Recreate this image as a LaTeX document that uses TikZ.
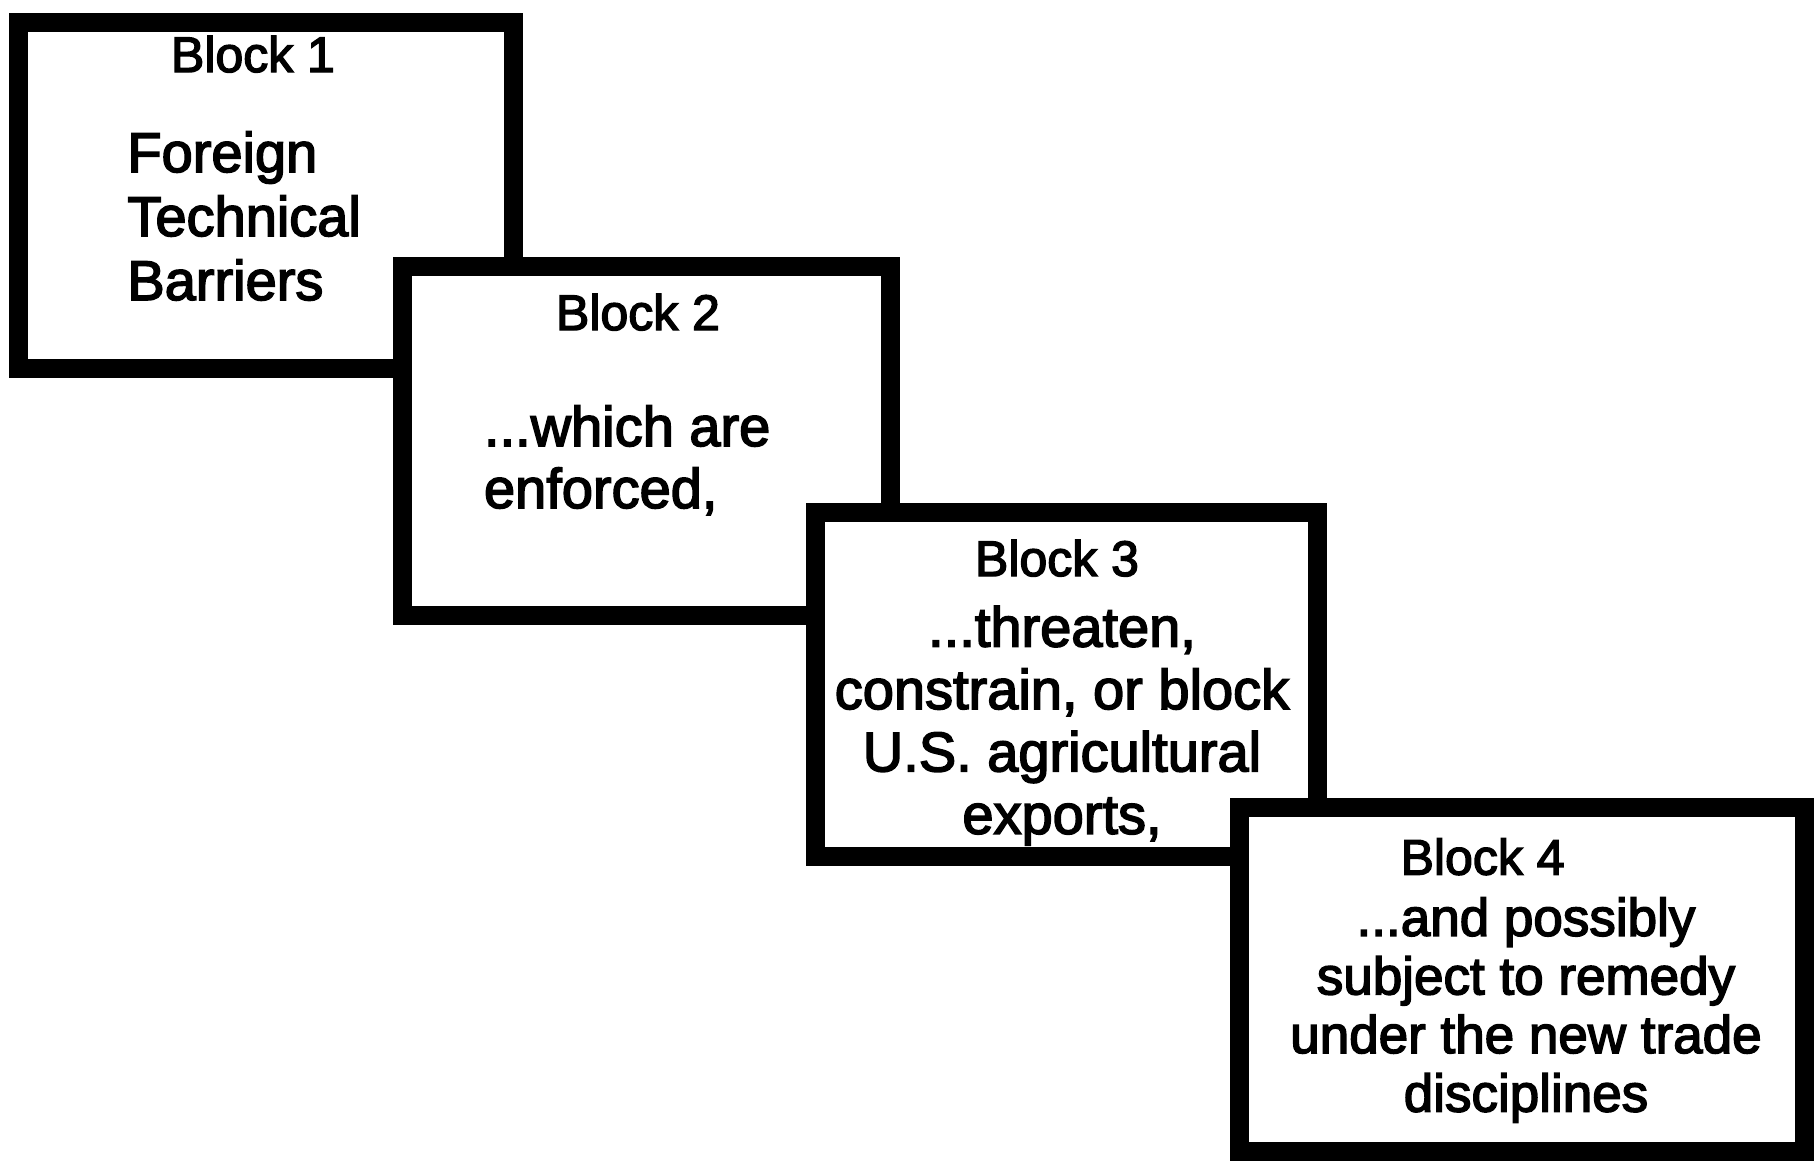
\documentclass[tikz,border=0pt]{standalone}
\usepackage{fontspec}
\setmainfont{Liberation Sans}[BoldFont=Liberation Sans, BoldFeatures={FakeBold=2.8}]
\begin{document}
\begin{tikzpicture}[x=0.5pt,y=-0.5pt,
  blk/.style={draw=black, fill=white, line width=9.5pt, rectangle, inner sep=0pt},
  lbl/.style={inner sep=0pt, anchor=base, font=\fontsize{25pt}{30pt}\selectfont\bfseries},
  bodytxt/.style={inner sep=0pt, font=\fontsize{28pt}{31.5pt}\selectfont\bfseries}]
\useasboundingbox[fill=white] (0,0) rectangle (1814,1164);
% Block 1
\node[blk, minimum width=247.6pt, minimum height=172.8pt] (b1) at (266.1,195.5) {};
\node[lbl] (h1) at (253,72) {Block 1};
\node[bodytxt, anchor=north west, align=left, font=\fontsize{28pt}{32pt}\selectfont\bfseries] (t1) at (127,131) {Foreign\\Technical\\Barriers};
% Block 2
\node[blk, minimum width=244.1pt, minimum height=174.75pt] (b2) at (646.7,440.75) {};
\node[lbl] (h2) at (638,330) {Block 2};
\node[bodytxt, anchor=north west, align=left, font=\fontsize{28pt}{31pt}\selectfont\bfseries] (t2) at (483.6,405) {...which are\\enforced,};
% Block 3
\node[blk, minimum width=251.05pt, minimum height=171.8pt] (b3) at (1066.65,684.3) {};
\node[lbl] (h3) at (1057,576) {Block 3};
\node[bodytxt, anchor=north, align=center, font=\fontsize{28pt}{31.2pt}\selectfont\bfseries] (t3) at (1062,605.6) {...threaten,\\constrain, or block\\U.S. agricultural\\exports,};
% Block 4
\node[blk, minimum width=282.85pt, minimum height=171.8pt] (b4) at (1521.85,979.4) {};
\node[lbl] (h4) at (1482.6,874.6) {Block 4};
\node[bodytxt, anchor=north, align=center, font=\fontsize{26.5pt}{29.3pt}\selectfont\bfseries] (t4) at (1526,897) {...and possibly\\subject to remedy\\under the new trade\\disciplines};
\end{tikzpicture}
\end{document}
